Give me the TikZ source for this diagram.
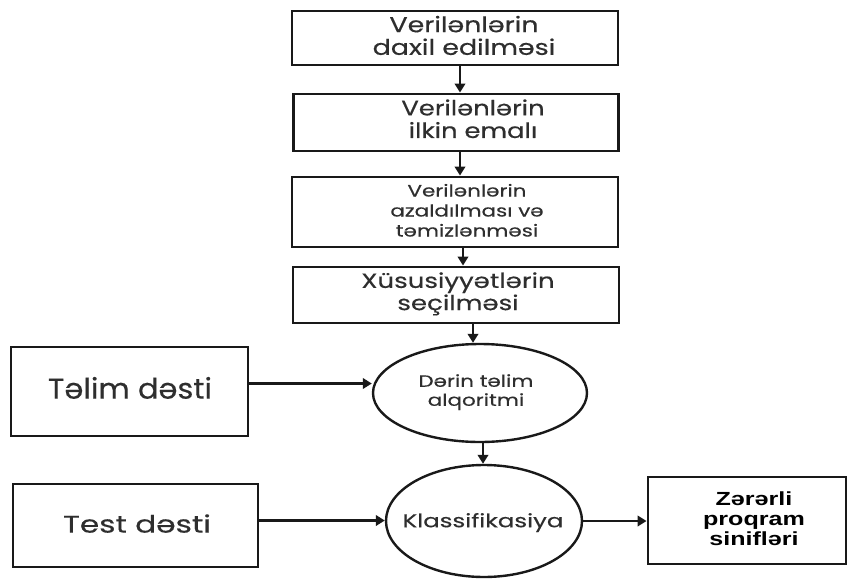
\documentclass[tikz,border=0pt]{standalone}
\usepackage{fontspec}
\setmainfont{Poppins}[FakeBold=0.35]
\newfontfamily\resfont{Liberation Sans}
\usetikzlibrary{arrows.meta,shapes.geometric}
% horizontally widened, centred block of lines
\newcommand{\widen}[2]{\scalebox{#1}[1]{\begin{tabular}{@{}c@{}}#2\end{tabular}}}
\begin{document}
\begin{tikzpicture}[x=1pt,y=-1pt,
  box/.style={draw=black!90,line width=2.9pt,rectangle,inner sep=0pt},
  oval/.style={draw=black!90,line width=2.4pt,ellipse,inner sep=0pt},
  txt/.style={text=black!82,align=center,inner sep=0pt},
  arr/.style={draw=black!90,line width=2.9pt,-{Triangle[length=9pt,width=10.5pt]}}]
\useasboundingbox (0,0) rectangle (848,578);

% pipeline boxes
\node[box,minimum width=326pt,minimum height=54pt] (b1) at (455,38) {};
\node[txt,font=\fontsize{21.5}{21}\selectfont] (b1t) at (464,38.5) {\widen{1.25}{Verilənlərin\\daxil edilməsi}};
\node[box,minimum width=325pt,minimum height=57pt] (b2) at (456,122.5) {};
\node[txt,font=\fontsize{21}{22}\selectfont] (b2t) at (473,122) {\widen{1.23}{Verilənlərin\\ilkin emalı}};
\node[box,minimum width=326pt,minimum height=70pt] (b3) at (455,212) {};
\node[txt,font=\fontsize{16.5}{20}\selectfont] (b3t) at (467,212.5) {\widen{1.3}{Verilənlərin\\azaldılması və\\təmizlənməsi}};
\node[box,minimum width=326pt,minimum height=56pt] (b4) at (456,295) {};
\node[txt,font=\fontsize{20.5}{22}\selectfont] (b4t) at (458,294.5) {\widen{1.27}{Xüsusiyyətlərin\\seçilməsi}};

% model and classifier
\node[oval,minimum width=214pt,minimum height=98pt] (e1) at (480,393) {};
\node[txt,font=\fontsize{16.5}{19}\selectfont] (e1t) at (476,392.5) {\widen{1.3}{Dərin təlim\\alqoritmi}};
\node[oval,minimum width=196pt,minimum height=112pt] (e2) at (484,521) {};
\node[txt,font=\fontsize{18.5}{19}\selectfont] (e2t) at (483,523) {\widen{1.32}{Klassifikasiya}};

% data sets
\node[box,minimum width=237pt,minimum height=89pt] (tr) at (129.5,391.5) {};
\node[txt,font=\fontsize{28.5}{28}\selectfont] (trt) at (130,392) {\widen{1.07}{Təlim dəsti}};
\node[box,minimum width=245pt,minimum height=83pt] (ts) at (135.5,525.5) {};
\node[txt,font=\fontsize{24}{28}\selectfont] (tst) at (137,527) {\widen{1.3}{Test dəsti}};

% output
\node[box,minimum width=198pt,minimum height=87pt] (out) at (747,520.5) {};
\node[txt,text=black,font=\resfont\bfseries\fontsize{19}{20}\selectfont] (outt) at (754,521) {\widen{1.32}{Zərərli\\proqram\\sinifləri}};

% connectors
\draw[arr] ([xshift=5pt]b1.south) -- ([xshift=5pt]b1.south |- b2.north);
\draw[arr] ([xshift=4pt]b2.south) -- ([xshift=4pt]b2.south |- b3.north);
\draw[arr] ([xshift=8pt]b3.south) -- ([xshift=8pt]b3.south |- b4.north);
\draw[arr] ([xshift=17pt]b4.south) -- ([xshift=17pt]b4.south |- e1.north);
\draw[arr] ([xshift=3pt]e1.south) -- ([xshift=3pt]e1.south |- e2.north);
\draw[arr] ([yshift=8pt]tr.east) -- ([yshift=8pt]tr.east -| e1.west);
\draw[arr] ([yshift=5pt]ts.east) -- ([yshift=5pt]ts.east -| e2.west);
\draw[arr] (e2.east) -- (e2.east -| out.west);
\end{tikzpicture}
\end{document}
